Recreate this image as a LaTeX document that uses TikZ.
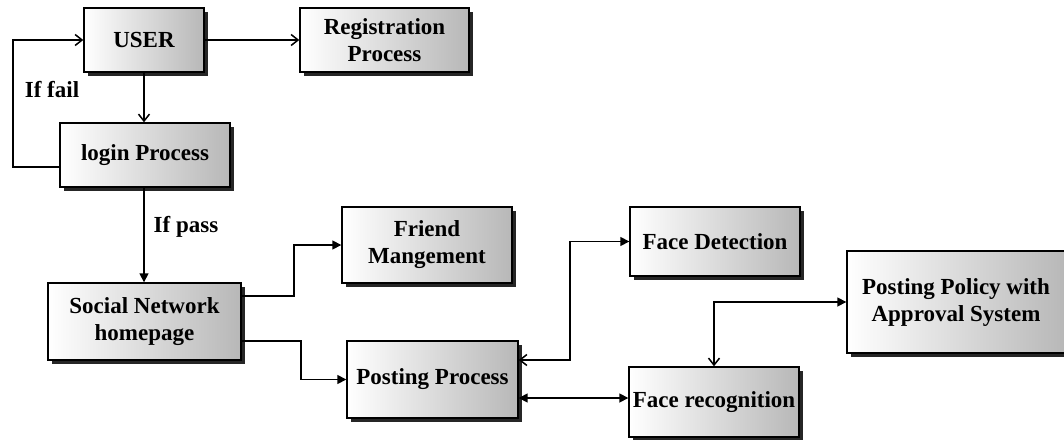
\documentclass[tikz,border=0pt]{standalone}
\usepackage{fontspec}
\setmainfont{Liberation Serif}
\usetikzlibrary{arrows.meta,shadows,calc}
\begin{document}
\begin{tikzpicture}[x=1pt,y=-1pt,
  box/.style={draw=black, line width=1.4pt, left color=white, right color=black!28,
    align=center, inner sep=0pt, font=\fontsize{23}{27}\selectfont\bfseries,
    drop shadow={shadow xshift=4pt, shadow yshift=-4pt, fill=black!85, opacity=1}},
  conn/.style={line width=1.6pt},
  lbl/.style={font=\fontsize{23}{27}\selectfont\bfseries, inner sep=0pt},
  fa/.tip={Triangle[length=9pt,width=9pt]},
  oa/.tip={Straight Barb[length=7pt,width=11pt,line width=1.5pt]}
]
\useasboundingbox (0,0) rectangle (1064,439);
\node[box, minimum width=120pt, minimum height=64pt] (user) at (144,40) {USER};
\node[box, minimum width=169pt, minimum height=64pt] (reg) at (384.5,40) {Registration\\Process};
\node[box, minimum width=170pt, minimum height=64pt] (login) at (145,155) {login Process};
\node[box, minimum width=193pt, minimum height=77pt] (social) at (144.5,321.5) {Social Network\\homepage};
\node[box, minimum width=170pt, minimum height=76pt] (friend) at (427,245) {Friend\\Mangement};
\node[box, minimum width=171pt, minimum height=77pt] (posting) at (432.5,379.5) {Posting Process};
\node[box, minimum width=170pt, minimum height=69pt] (fd) at (715,241.5) {Face Detection};
\node[box, minimum width=218pt, minimum height=102pt] (policy) at (956,302) {Posting Policy with\\Approval System};
\node[box, minimum width=170pt, minimum height=70pt] (fr) at (714,402) {Face recognition};

\coordinate (loopA) at (13,167);
\coordinate (loopB) at (13,40);
\node[lbl] (iffail) at (52,90) {If fail};
\node[lbl] (ifpass) at (186,227) {If pass};

\draw[conn,-oa] (user.east) -- (reg.west);
\draw[conn,-oa] (user.south) -- (user.south |- login.north);
\draw[conn,-oa] (login.west |- loopA) -- (loopA) -- (loopB) -- (user.west);
\draw[conn,-fa] (login.south -| 144,0) -- (social.north -| 144,0);
\draw[conn,-fa] (social.east |- 0,296) -- (294,296) |- (friend.west);
\draw[conn,-fa] (social.east |- 0,341) -- (301,341) |- (posting.west);
\draw[conn,oa-fa] (posting.east |- 0,360) -- (570,360) |- (fd.west);
\draw[conn,fa-fa] (posting.east |- 0,398) -- (fr.west |- 0,398);
\draw[conn,fa-oa] (policy.west) -| (fr.north);
\end{tikzpicture}
\end{document}
